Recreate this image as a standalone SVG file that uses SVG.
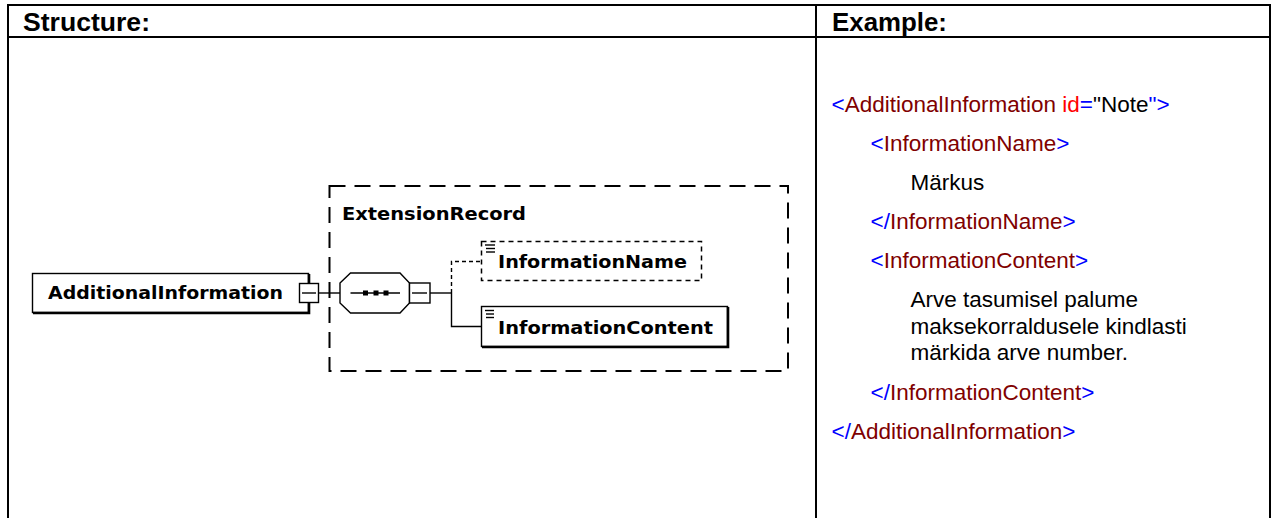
<svg xmlns="http://www.w3.org/2000/svg" width="1276" height="518" viewBox="0 0 1276 518">
<style>
.tbl{stroke:#000;stroke-width:2;fill:none}
.hdr{font-family:"Liberation Sans",Arial,sans-serif;font-weight:bold;font-size:25px;fill:#000}
.x{font-family:"Liberation Sans",Arial,sans-serif;font-size:22.5px}
.b{fill:#0000ff}.m{fill:#800000}.r{fill:#ff0000}.k{fill:#000}
.lbl{font-family:"DejaVu Sans",Verdana,sans-serif;font-weight:bold;font-size:17.5px;fill:#000}
.box{fill:#fff;stroke:#000;stroke-width:1.4}
.shadow{stroke:#000;stroke-width:2.6;fill:none}
.ln{stroke:#000;stroke-width:1.4;fill:none}
.dl{stroke:#000;stroke-width:1.4;fill:none;stroke-dasharray:4 3}
.icon{stroke:#000;stroke-width:1.4}
</style>
<g id="table">
<line class="tbl" x1="7" y1="5" x2="1271" y2="5"/>
<line class="tbl" x1="8" y1="4" x2="8" y2="518"/>
<line class="tbl" x1="816" y1="4" x2="816" y2="518"/>
<line class="tbl" x1="1270" y1="4" x2="1270" y2="518"/>
<line class="tbl" x1="7" y1="37" x2="1271" y2="37"/>
<text class="hdr" x="23" y="31" textLength="127" lengthAdjust="spacingAndGlyphs">Structure:</text>
<text class="hdr" x="832" y="31" textLength="115" lengthAdjust="spacingAndGlyphs">Example:</text>
</g>
<g id="connectors">
<line class="ln" x1="318.5" y1="293" x2="340" y2="293"/>
<line class="ln" x1="430" y1="293" x2="451.5" y2="293"/>
<polyline class="ln" points="451.5,293 451.5,326.5 481.5,326.5"/>
<polyline class="dl" points="451.5,293 451.5,261.5 481.5,261.5"/>
</g>
<g id="ExtensionRecord">
<rect x="329.5" y="186" width="458.5" height="185" fill="none" stroke="#000" stroke-width="2" stroke-dasharray="16 9"/>
<text class="lbl" x="342" y="220" textLength="184" lengthAdjust="spacingAndGlyphs">ExtensionRecord</text>
</g>
<g id="AdditionalInformation">
<rect class="box" x="32.5" y="273.5" width="276" height="39"/>
<polyline class="shadow" points="309,274 309,313 33,313"/>
<text class="lbl" x="48" y="299" textLength="235" lengthAdjust="spacingAndGlyphs">AdditionalInformation</text>
<rect class="box" x="299.5" y="283.5" width="19" height="19"/>
<line class="ln" x1="302" y1="293" x2="316" y2="293"/>
</g>
<g id="sequence">
<polygon class="box" points="340,283 350.5,273 400,273 409.5,283 409.5,303 400,313 350.5,313 340,303"/>
<line class="ln" x1="350.5" y1="293" x2="400" y2="293"/>
<rect x="363" y="290.5" width="5" height="5" fill="#000"/>
<rect x="373.5" y="290.5" width="5" height="5" fill="#000"/>
<rect x="383.5" y="290.5" width="5" height="5" fill="#000"/>
<rect class="box" x="409.5" y="283" width="20.5" height="20"/>
<line class="ln" x1="412" y1="293" x2="427" y2="293"/>
</g>
<g id="InformationName">
<rect x="481.5" y="241.5" width="220" height="39" fill="#fff" stroke="#000" stroke-width="1.5" stroke-dasharray="5 4"/>
<line class="icon" x1="485" y1="245" x2="495" y2="245"/>
<line class="icon" x1="486" y1="248.5" x2="495" y2="248.5"/>
<line class="icon" x1="486" y1="252" x2="495" y2="252"/>
<text class="lbl" x="498" y="268" textLength="189" lengthAdjust="spacingAndGlyphs">InformationName</text>
</g>
<g id="InformationContent">
<rect class="box" x="481.5" y="306.5" width="246" height="40"/>
<polyline class="shadow" points="728,307 728,347 482,347"/>
<line class="icon" x1="485" y1="310.5" x2="494" y2="310.5"/>
<line class="icon" x1="486" y1="314" x2="494" y2="314"/>
<line class="icon" x1="486" y1="317.5" x2="494" y2="317.5"/>
<text class="lbl" x="498" y="334" textLength="215" lengthAdjust="spacingAndGlyphs">InformationContent</text>
</g>
<g id="example">
<text class="x" x="831.5" y="112"><tspan class="b">&lt;</tspan><tspan class="m">AdditionalInformation</tspan> <tspan class="r">id</tspan><tspan class="b">=</tspan><tspan class="k">"Note</tspan><tspan class="b">"&gt;</tspan></text>
<text class="x" x="870.5" y="151"><tspan class="b">&lt;</tspan><tspan class="m">InformationName</tspan><tspan class="b">&gt;</tspan></text>
<text class="x k" x="910.5" y="190">Märkus</text>
<text class="x" x="870.5" y="229"><tspan class="b">&lt;/</tspan><tspan class="m">InformationName</tspan><tspan class="b">&gt;</tspan></text>
<text class="x" x="870.5" y="268"><tspan class="b">&lt;</tspan><tspan class="m">InformationContent</tspan><tspan class="b">&gt;</tspan></text>
<text class="x k" x="910.5" y="307">Arve tasumisel palume</text>
<text class="x k" x="910.5" y="333.5">maksekorraldusele kindlasti</text>
<text class="x k" x="910.5" y="360">märkida arve number.</text>
<text class="x" x="870.5" y="400"><tspan class="b">&lt;/</tspan><tspan class="m">InformationContent</tspan><tspan class="b">&gt;</tspan></text>
<text class="x" x="831.5" y="439"><tspan class="b">&lt;/</tspan><tspan class="m">AdditionalInformation</tspan><tspan class="b">&gt;</tspan></text>
</g>
</svg>
